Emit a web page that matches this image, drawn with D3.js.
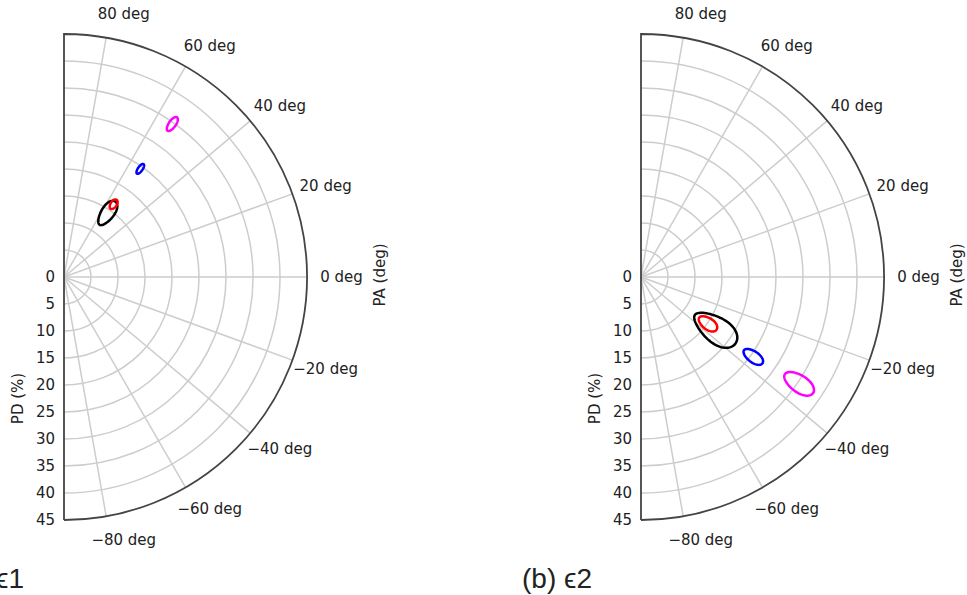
<!DOCTYPE html>
<html>
<head>
<meta charset="utf-8">
<script src="https://cdn.jsdelivr.net/npm/d3@7"></script>
<style>
  body { margin: 0; background: #fff; }
  svg text { font-family: "DejaVu Sans", Verdana, sans-serif; fill: #222; }
  .caption { font-family: "Liberation Sans", Arial, "DejaVu Sans", sans-serif !important; }
</style>
</head>
<body>
<div id="chart"></div>
<script>
"use strict";

// data
var panelCaptions = ["(a) \u03f51", "(b) \u03f52"];
var radialTicks = [0, 5, 10, 15, 20, 25, 30, 35, 40, 45];
var angularTicks = [80, 60, 40, 20, 0, -20, -40, -60, -80];
var seriesColors = ["black", "red", "blue", "magenta"];

// panel (a)
var pdA = [14.3, 16.3, 24.5, 34.7];
var paA = [55.8, 55.7, 54.8, 54.7];
var pdErrA = [2.6, 1.0, 1.07, 1.52];
var paErrA = [4.8, 2.0, 1.0, 1.07];

// panel (b)
var pdB = [16.8, 15.1, 25.5, 35.3];
var paB = [-35.1, -34.9, -35.4, -34.0];
var pdErrB = [4.6, 1.96, 2.1, 3.15];
var paErrB = [7.9, 4.0, 2.3, 2.55];

var width = 967;
var height = 595;
var radius = 243;
var centerY = 277;
var centersX = [64, 641];

var svg = d3.select('#chart')
            .append('svg')
            .attr('width', width)
            .attr('height', height);

var scaleR = d3.scaleLinear()
              .domain([0, 45])
              .range([0, radius]);

function toRad(deg) { return deg * Math.PI / 180; }
function px(pd, pa) { return scaleR(pd) * Math.cos(toRad(pa)); }
function py(pd, pa) { return -scaleR(pd) * Math.sin(toRad(pa)); }

function fmtAngle(a) {
  return (a < 0 ? '\u2212' + Math.abs(a) : a) + ' deg';
}

function drawPanel(i, pd, pa, pdErr, paErr) {
  var g = svg.append('g')
            .attr('transform', 'translate(' + centersX[i] + ',' + centerY + ')');

  // radial grid circles (half)
  g.append('g').selectAll('path')
    .data(radialTicks.filter(function(d) { return d > 0 && d < 45; }))
  .enter().append('path')
    .attr('d', function(d) {
      var p = d3.path();
      p.arc(0, 0, scaleR(d), -Math.PI / 2, Math.PI / 2);
      return p.toString();
    })
    .attr('fill', 'none')
    .attr('stroke', '#cdcdcd')
    .attr('stroke-width', 1.5);

  // angular grid spokes
  g.append('g').selectAll('line')
    .data(angularTicks)
  .enter().append('line')
    .attr('x1', 0)
    .attr('y1', 0)
    .attr('x2', function(d) { return px(45, d); })
    .attr('y2', function(d) { return py(45, d); })
    .attr('stroke', '#cdcdcd')
    .attr('stroke-width', 1.5);

  // outer boundary
  var outer = d3.path();
  outer.moveTo(px(45, -90), py(45, -90));
  outer.lineTo(0, 0);
  outer.lineTo(px(45, 90), py(45, 90));
  outer.arc(0, 0, scaleR(45), -Math.PI / 2, Math.PI / 2);
  g.append('path')
    .attr('d', outer.toString())
    .attr('fill', 'none')
    .attr('stroke', '#444')
    .attr('stroke-width', 1.8);

  // angular tick labels
  g.append('g').selectAll('text')
    .data(angularTicks)
  .enter().append('text')
    .attr('x', function(d) { return px(45, d) + 14 + 20.5 * Math.cos(toRad(d)); })
    .attr('y', function(d) { return py(45, d) - 24 * Math.sin(toRad(d)); })
    .attr('dy', '0.36em')
    .attr('text-anchor', 'middle')
    .style('font-size', '15px')
    .text(fmtAngle);

  // radial tick labels, down the -90 deg edge
  g.append('g').selectAll('text')
    .data(radialTicks)
  .enter().append('text')
    .attr('x', -9)
    .attr('y', function(d) { return scaleR(d); })
    .attr('dy', '0.36em')
    .attr('text-anchor', 'end')
    .style('font-size', '15px')
    .text(function(d) { return d; });

  g.append('text')
    .attr('transform', 'translate(-41,' + scaleR(22.5) + ') rotate(-90)')
    .attr('text-anchor', 'middle')
    .style('font-size', '15px')
    .text('PD (%)');

  g.append('text')
    .attr('transform', 'translate(321,-2) rotate(-90)')
    .attr('text-anchor', 'middle')
    .style('font-size', '15px')
    .text('PA (deg)');

  // contour ellipses in PD / PA
  var steps = d3.range(0, 73).map(function(k) { return k * 2 * Math.PI / 72; });
  var line = d3.line()
    .x(function(d) { return px(d[0], d[1]); })
    .y(function(d) { return py(d[0], d[1]); })
    .curve(d3.curveLinearClosed);

  g.append('g').selectAll('path')
    .data(seriesColors)
  .enter().append('path')
    .attr('d', function(c, j) {
      return line(steps.map(function(t) {
        return [pd[j] + pdErr[j] * Math.cos(t), pa[j] + paErr[j] * Math.sin(t)];
      }));
    })
    .attr('fill', 'none')
    .attr('stroke', function(c) { return c; })
    .attr('stroke-width', 2.5);
}

drawPanel(0, pdA, paA, pdErrA, paErrA);
drawPanel(1, pdB, paB, pdErrB, paErrB);

// captions (the left one runs off the edge, as in the original)
svg.selectAll('.caption')
  .data(panelCaptions)
.enter().append('text')
  .attr('class', 'caption')
  .attr('x', function(d, i) { return i === 0 ? 24 : 592; })
  .attr('y', 588)
  .attr('text-anchor', 'end')
  .style('font-size', '28px')
  .text(function(d) { return d; });
</script>
</body>
</html>
